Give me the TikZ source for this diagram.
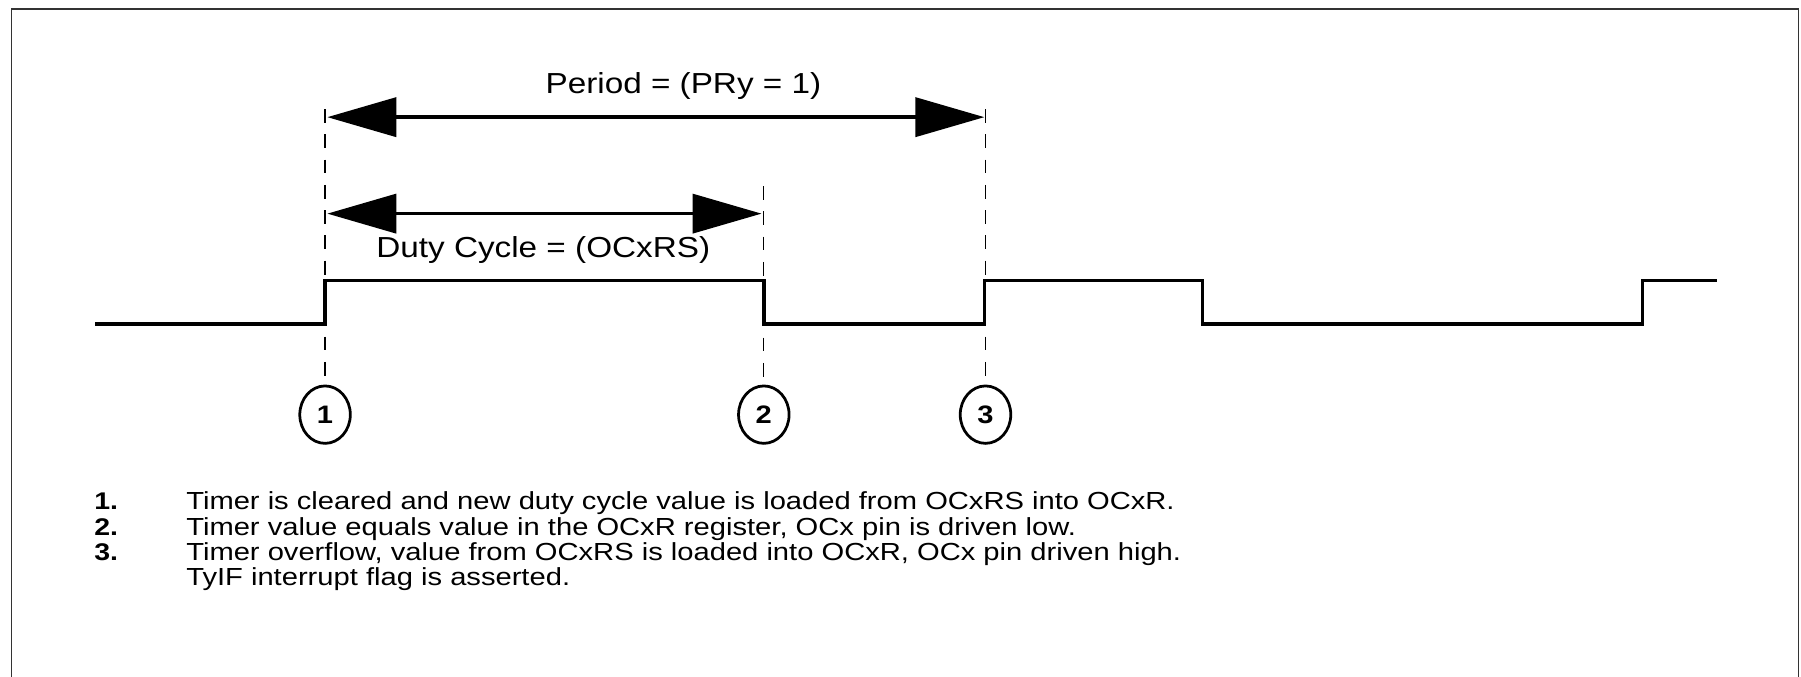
\documentclass[tikz,border=0pt]{standalone}
\usepackage{fontspec}
\setmainfont{Liberation Sans}
\newfontfamily\widefont[FakeStretch=1.15]{Liberation Sans}
\newfontfamily\listfont[FakeStretch=1.18]{Liberation Sans}
\usetikzlibrary{arrows.meta,shapes.geometric}
\begin{document}
\begin{tikzpicture}[x=1pt,y=-1pt,
  frame/.style={draw=black!80,line width=1.2pt},
  sig/.style={line width=3pt,line join=miter},
  guide/.style={line width=1pt,dash pattern=on 12pt off 10pt},
  dim/.style={line width=3pt,{Triangle[length=60pt,width=34pt]}-{Triangle[length=60pt,width=34pt]}},
  lbl/.style={font=\widefont\fontsize{25.2}{28}\selectfont,inner sep=0pt},
  evt/.style={ellipse,draw,line width=2.4pt,minimum width=44pt,minimum height=50pt,inner sep=0pt,font=\widefont\fontsize{22}{24}\selectfont\bfseries},
  num/.style={anchor=base west,inner sep=0pt,font=\listfont\fontsize{21}{22}\selectfont\bfseries},
  txt/.style={anchor=base west,inner sep=0pt,font=\listfont\fontsize{21.5}{22}\selectfont}
]
\useasboundingbox (0,0) rectangle (1568,589);
\draw[frame] (10,589) -- (10,8) -- (1566,8) -- (1566,589);
% event circles
\node[evt] (c1) at (283,361) {1};
\node[evt] (c2) at (665,361) {2};
\node[evt] (c3) at (858,361) {3};
\coordinate (t1) at (283,95);
\coordinate (t2) at (665,162);
\coordinate (t3) at (858,95);
\draw[guide] (t1) -- (c1.north);
\draw[guide] (t2) -- (c2.north);
\draw[guide] (t3) -- (c3.north);
% dimension arrows
\coordinate (pa) at (285,102);
\coordinate (pb) at (857,102);
\coordinate (da) at (285,186);
\coordinate (db) at (663,186);
\draw[dim] (pa) -- (pb);
\draw[dim] (da) -- (db);
\node[lbl] (plbl) at (595,75) {Period = (PRy = 1)};
\node[lbl] (dlbl) at (473,218) {Duty Cycle = (OCxRS)};
% signal
\draw[sig] (83,282) -- (283,282) -- (283,244) -- (665,244) -- (665,282) -- (857,282) -- (857,244)
  -- (1047,244) -- (1047,282) -- (1430,282) -- (1430,244) -- (1495,244);
% notes
\node[num] (n1) at (82,444) {1.};
\node[num] (n2) at (82,466) {2.};
\node[num] (n3) at (82,488) {3.};
\node[txt] (l1) at (162,444) {Timer is cleared and new duty cycle value is loaded from OCxRS into OCxR.};
\node[txt] (l2) at (162,466) {Timer value equals value in the OCxR register, OCx pin is driven low.};
\node[txt] (l3) at (162,488) {Timer overflow, value from OCxRS is loaded into OCxR, OCx pin driven high.};
\node[txt] (l4) at (162,510) {TyIF interrupt flag is asserted.};
\end{tikzpicture}
\end{document}
